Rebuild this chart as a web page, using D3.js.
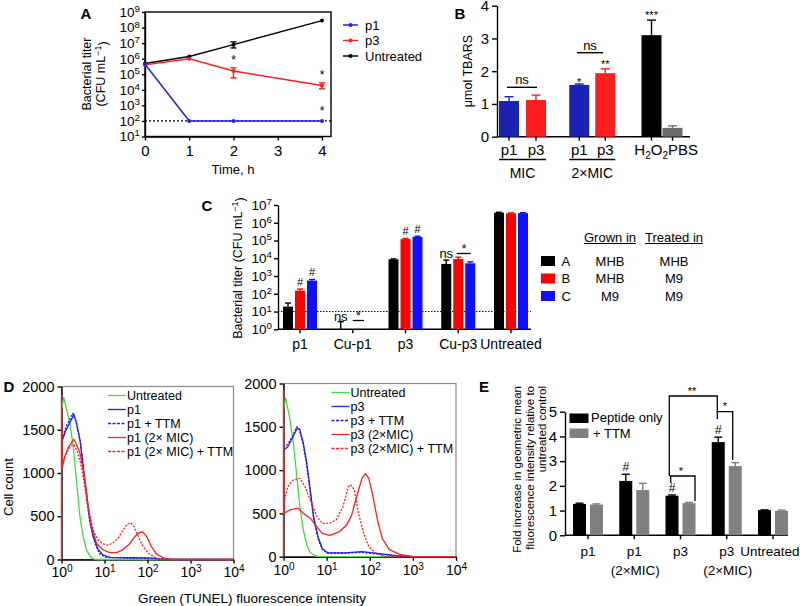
<!DOCTYPE html>
<html>
<head>
<meta charset="utf-8">
<title>Bacterial titer, TBARS and TUNEL panels</title>
<style>
  body { margin: 0; background: #fff; }
  svg { font-family: "Liberation Sans", Arial, Helvetica, sans-serif; }
</style>
</head>
<body>
<svg id="fig" width="800" height="606"></svg>
<script src="https://cdn.jsdelivr.net/npm/d3@7"></script>
<script>
// ---------- data ----------
// A: time kill curve (CFU/mL)
var timeH = [0, 1, 2, 4];
var aP1 = [4.4e5, 100, 100, 100];
var aP3 = [4.0e5, 1.0e6, 1.6e5, 1.9e4];
var aP3Lo = [null, null, 5.8e4, 1.15e4];
var aP3Hi = [null, null, 2.6e5, 2.8e4];
var aUntreated = [4.9e5, 1.4e6, 8.0e6, 2.8e8];
var aUntLo = [null, null, 4.9e6, null];
var aUntHi = [null, null, 1.2e7, null];
var aYTicks = [1e1, 1e2, 1e3, 1e4, 1e5, 1e6, 1e7, 1e8, 1e9];
var aXTicks = [0, 1, 2, 3, 4];

// B: TBARS
var bGroups = ["MIC", "2×MIC", "ctrl"];
var bMicVals = [1.09, 1.12], bMicErr = [1.22, 1.27];
var bMic2Vals = [1.58, 1.94], bMic2Err = [1.61, 2.07];
var bCtrlVals = [3.1, 0.27], bCtrlErr = [3.56, 0.33];
var bYTicks = [0, 1, 2, 3, 4];

// C: titer after growth/treatment media (series A, B, C)
var cGroups = ["p1", "Cu-p1", "p3", "Cu-p3", "Untreated"];
var cA = [19, 1, 8700, 4800, 3.7e6];
var cAHi = [30, 2.7, 9200, 7900, 3.9e6];
var cB = [150, 1, 1.2e5, 9000, 3.4e6];
var cBHi = [185, null, 1.3e5, 1.15e4, 3.6e6];
var cC = [550, 1, 1.6e5, 5200, 3.5e6];
var cCHi = [640, null, 1.75e5, 6300, 3.7e6];
var cYTicks = [1e0, 1e1, 1e2, 1e3, 1e4, 1e5, 1e6, 1e7];
var cLegend = [["A", "MHB", "MHB"], ["B", "MHB", "M9"], ["C", "M9", "M9"]];

// D: TUNEL histograms, [intensity, cell count]
var dLeftUntreated = [[1,1740],[1.13,1870],[1.31,1740],[1.56,1580],[1.87,1310],[2.15,1000],[2.67,505],[3.19,265],[3.81,110],[4.72,30],[5.96,0],[1e4,0]];
var dLeftP1 = [[1,1350],[1.2,1465],[1.43,1545],[1.71,1620],[1.94,1680],[2.23,1580],[2.67,1390],[3.08,1155],[3.49,920],[3.95,690],[4.57,455],[5.45,265],[7.12,115],[9.3,50],[13.3,25],[46,20],[113,18],[194,8],[398,0],[1e4,0]];
var dLeftP1TTM = [[1,1390],[1.31,1545],[1.56,1620],[1.81,1690],[2.15,1600],[2.77,1350],[3.19,1040],[3.81,730],[4.57,420],[5.96,190],[7.6,70],[10.7,25],[40,15],[150,10],[398,0],[1e4,0]];
var dLeftP1Mic = [[1,0],[1,1900],[1.04,1060],[1.2,1195],[1.43,1290],[1.71,1350],[1.94,1390],[2.23,1330],[2.67,1235],[3.19,1040],[3.68,845],[4.18,610],[4.99,380],[6.54,185],[9.3,110],[13.3,80],[19,80],[27,115],[39,185],[51,265],[64,310],[77,320],[96,265],[125,145],[164,60],[234,20],[332,0],[1e4,0]];
var dLeftP1MicTTM = [[1,1100],[1.31,1235],[1.62,1310],[1.94,1330],[2.32,1250],[2.77,1115],[3.19,960],[3.68,765],[4.4,535],[5.45,340],[7.1,225],[9.3,180],[12.2,165],[15.9,195],[20.8,245],[27,340],[33.9,410],[40.5,425],[48.5,380],[61,265],[80,145],[105,70],[150,23],[234,0],[1e4,0]];

var dRightUntreated = [[1,1690],[1.12,1830],[1.38,1615],[1.66,1350],[2.0,965],[2.4,580],[2.88,310],[3.47,135],[4.17,45],[5.5,8],[7.2,0],[1e4,0]];
var dRightP3 = [[1,1230],[1.26,1270],[1.66,1385],[2.09,1485],[2.4,1465],[2.88,1310],[3.47,1080],[4.17,770],[5.0,460],[6.3,230],[7.9,95],[10.5,45],[26,45],[66,58],[151,38],[407,12],[1020,0],[1e4,0]];
var dRightP3TTM = [[1,1260],[1.26,1300],[1.66,1400],[2.0,1500],[2.3,1480],[2.88,1290],[3.47,1050],[4.17,740],[5.0,440],[6.3,210],[7.9,85],[10.5,40],[26,40],[66,50],[151,30],[407,8],[1020,0],[1e4,0]];
var dRightP3Mic = [[1,0],[1,1920],[1.03,500],[1.38,540],[2.19,560],[2.88,500],[4.17,445],[5.5,365],[7.9,270],[11.5,245],[13.8,258],[20,290],[29,365],[38,480],[50,695],[66,905],[79,960],[95,905],[115,730],[151,425],[195,210],[282,85],[490,27],[1020,0],[1e4,0]];
var dRightP3MicTTM = [[1,615],[1.26,810],[1.66,885],[2.4,905],[3.16,810],[4.17,655],[6.0,460],[7.9,385],[11.5,385],[16.6,425],[24,580],[32,810],[36,830],[44,770],[55,500],[72,270],[95,115],[138,40],[234,0],[1e4,0]];
var dYTicks = [0, 500, 1000, 1500, 2000];
var dXTicks = [1, 10, 100, 1000, 10000];
var dLeftLabels = ["Untreated", "p1", "p1 + TTM", "p1 (2× MIC)", "p1 (2× MIC) + TTM"];
var dRightLabels = ["Untreated", "p3", "p3 + TTM", "p3 (2×MIC)", "p3 (2×MIC) + TTM"];

// E: TUNEL geometric mean fold increase
var eCats = ["p1", "p1 (2×MIC)", "p3", "p3 (2×MIC)", "Untreated"];
var ePeptide = [1.27, 2.2, 1.6, 3.77, 1.02];
var ePeptideHi = [1.30, 2.47, 1.63, 3.97, 1.03];
var eTTM = [1.24, 1.83, 1.3, 2.8, 0.99];
var eTTMHi = [1.27, 2.1, 1.33, 2.94, 1.02];
var eYTicks = [0, 1, 2, 3, 4, 5];

// ---------- helpers ----------
var svg = d3.select("#fig");
svg.append("rect").attr("width", 800).attr("height", 606).attr("fill", "#fff");

var BLUE = "#2020e6", RED = "#ff1f1f", GREEN = "#45d945";
var intFmt = d3.format("d");

function styleAxis(g, size) {
    g.selectAll("path, line").attr("stroke", "#000").attr("stroke-width", 1.4);
    g.selectAll("text").attr("font-size", size).attr("fill", "#000")
        .attr("font-family", "\"Liberation Sans\", Arial, sans-serif");
}

function powLabels(g, size) {
    g.selectAll(".tick text").each(function (d) {
        var t = d3.select(this);
        var e = Math.round(Math.log10(d));
        t.text("10");
        t.append("tspan").attr("dy", "-0.5em").attr("font-size", size * 0.72).text(e);
    });
}

function label(g, x, y, s, size, anchor, weight) {
    return g.append("text").attr("x", x).attr("y", y)
        .attr("font-size", size).attr("text-anchor", anchor || "middle")
        .attr("font-weight", weight || "normal").attr("fill", "#000").text(s);
}

function vlabel(g, x, y, s, size, anchor) {
    return g.append("text").attr("transform", "translate(" + x + "," + y + ") rotate(-90)")
        .attr("font-size", size).attr("text-anchor", anchor || "middle").attr("dy", "0.35em").text(s);
}

function errorBar(g, x, y1, y2, color, w) {
    g.append("line").attr("x1", x).attr("x2", x).attr("y1", y1).attr("y2", y2)
        .attr("stroke", color).attr("stroke-width", 1.4);
    g.append("line").attr("x1", x - w / 2).attr("x2", x + w / 2).attr("y1", y2).attr("y2", y2)
        .attr("stroke", color).attr("stroke-width", 1.4);
}

function hline(g, x1, x2, y, color, w, dash) {
    var l = g.append("line").attr("x1", x1).attr("x2", x2).attr("y1", y).attr("y2", y)
        .attr("stroke", color || "#000").attr("stroke-width", w || 1.4);
    if (dash) l.attr("stroke-dasharray", dash);
    return l;
}

// ---------- panel A ----------
var gA = svg.append("g");
var ax = d3.scaleLinear().domain([0, 4]).range([145, 322]);
var ay = d3.scaleLog().domain([10, 1e9]).range([136.5, 12]);

gA.append("g").attr("transform", "translate(145,0)")
    .call(d3.axisLeft(ay).tickValues(aYTicks).tickSize(3).tickSizeOuter(0).tickPadding(2))
    .call(function (g) { styleAxis(g, 13.5); powLabels(g, 13.5); });
gA.append("g").attr("transform", "translate(0,136.5)")
    .call(d3.axisBottom(ax).tickValues(aXTicks).tickSize(4).tickSizeOuter(0).tickPadding(5).tickFormat(intFmt))
    .call(function (g) { styleAxis(g, 15); });
gA.append("rect").attr("x", 145).attr("y", 12).attr("width", 186).attr("height", 124.5)
    .attr("fill", "none").attr("stroke", "#000").attr("stroke-width", 1.4);

hline(gA, 145, 331, ay(100), "#000", 1.3, "2,2");

var lineA = d3.line().x(function (d) { return ax(d[0]); }).y(function (d) { return ay(d[1]); });
[[aUntreated, "#000"], [aP3, RED], [aP1, BLUE]].forEach(function (s) {
    var pts = timeH.map(function (t, i) { return [t, s[0][i]]; });
    gA.append("path").attr("d", lineA(pts)).attr("fill", "none").attr("stroke", s[1]).attr("stroke-width", 1.5);
    gA.selectAll(null).data(pts).enter().append("circle")
        .attr("cx", function (d) { return ax(d[0]); }).attr("cy", function (d) { return ay(d[1]); })
        .attr("r", 2).attr("fill", s[1]);
});
timeH.forEach(function (t, i) {
    if (aP3Hi[i]) { errorBar(gA, ax(t), ay(aP3[i]), ay(aP3Hi[i]), RED, 6); errorBar(gA, ax(t), ay(aP3[i]), ay(aP3Lo[i]), RED, 6); }
    if (aUntHi[i]) { errorBar(gA, ax(t), ay(aUntreated[i]), ay(aUntHi[i]), "#000", 6); errorBar(gA, ax(t), ay(aUntreated[i]), ay(aUntLo[i]), "#000", 6); }
});
label(gA, ax(2), ay(aP3Hi[2]) - 4, "*", 12);
label(gA, ax(4), ay(aP3Hi[3]) - 4, "*", 12);
label(gA, ax(4), ay(100) - 6, "*", 12);

label(gA, 86, 19, "A", 15, "middle", "bold");
vlabel(gA, 87, 74, "Bacterial titer", 12.5);
var ylab = gA.append("text").attr("transform", "translate(101,74) rotate(-90)")
    .attr("font-size", 12.5).attr("text-anchor", "middle").attr("dy", "0.35em");
ylab.append("tspan").text("(CFU mL");
ylab.append("tspan").attr("dy", "-0.45em").attr("font-size", 9).text("−1");
ylab.append("tspan").attr("dy", "0.45em").text(")");
label(gA, 233, 174, "Time, h", 13);

[["p1", BLUE], ["p3", RED], ["Untreated", "#000"]].forEach(function (d, i) {
    var y = 25 + i * 15.5;
    hline(gA, 343, 358, y, d[1], 1.5);
    gA.append("circle").attr("cx", 350.5).attr("cy", y).attr("r", 2).attr("fill", d[1]);
    label(gA, 365, y + 4.5, d[0], 13, "start");
});

// ---------- panel B ----------
var gB = svg.append("g");
var BBLUE = "#1a22b4";
var by = d3.scaleLinear().domain([0, 4]).range([136.7, 5.7]);
var bxg = d3.scalePoint().domain(bGroups).range([522.5, 662]);
gB.append("g").attr("transform", "translate(497,0)")
    .call(d3.axisLeft(by).tickValues(bYTicks).tickSize(5).tickSizeOuter(0).tickPadding(3).tickFormat(intFmt))
    .call(function (g) { styleAxis(g, 15); });
hline(gB, 497, 690, by(0), "#000", 1.4);

var bBars = [
    { g: "MIC", off: -13.5, v: bMicVals[0], e: bMicErr[0], c: BBLUE, t: "p1" },
    { g: "MIC", off: 13.5, v: bMicVals[1], e: bMicErr[1], c: RED, t: "p3" },
    { g: "2×MIC", off: -13, v: bMic2Vals[0], e: bMic2Err[0], c: BBLUE, t: "p1" },
    { g: "2×MIC", off: 13, v: bMic2Vals[1], e: bMic2Err[1], c: RED, t: "p3" },
    { g: "ctrl", off: -10.5, v: bCtrlVals[0], e: bCtrlErr[0], c: "#000", t: "" },
    { g: "ctrl", off: 10.5, v: bCtrlVals[1], e: bCtrlErr[1], c: "#6b6b6b", t: "" }
];
bBars.forEach(function (d) {
    var cx = bxg(d.g) + d.off;
    errorBar(gB, cx, by(d.v), by(d.e), d.c, 9);
    gB.append("rect").attr("x", cx - 10).attr("width", 20).attr("y", by(d.v))
        .attr("height", by(0) - by(d.v)).attr("fill", d.c);
    gB.append("line").attr("x1", cx).attr("x2", cx).attr("y1", by(0)).attr("y2", by(0) + 4)
        .attr("stroke", "#000").attr("stroke-width", 1.4);
    if (d.t) label(gB, cx, 155, d.t, 15);
});
hline(gB, 499, 546, 159.5, "#000", 1.3);
hline(gB, bxg("2×MIC") - 23, bxg("2×MIC") + 23, 159.5, "#000", 1.3);
label(gB, bxg("MIC"), 178, "MIC", 14);
label(gB, bxg("2×MIC"), 178, "2×MIC", 14);
var h2o2 = gB.append("text").attr("x", 668).attr("y", 155).attr("font-size", 15).attr("text-anchor", "end");
h2o2.append("tspan").text("H");
h2o2.append("tspan").attr("dy", 4).attr("font-size", 10).text("2");
h2o2.append("tspan").attr("dy", -4).text("O");
h2o2.append("tspan").attr("dy", 4).attr("font-size", 10).text("2");
label(gB, 668, 155, "PBS", 15, "start");

hline(gB, 507, 537, 87.3, "#000", 1.4);
label(gB, 522, 84, "ns", 13);
hline(gB, 577, 603, 52.7, "#000", 1.4);
label(gB, 590, 50, "ns", 13);
label(gB, bxg("2×MIC") - 13, 86, "*", 11);
label(gB, bxg("2×MIC") + 13, 68, "**", 11);
label(gB, bxg("ctrl") - 10.5, 19, "***", 11);
label(gB, 460, 19, "B", 15, "middle", "bold");
vlabel(gB, 468, 71, "μmol TBARS", 12.5);

// ---------- panel C ----------
var gC = svg.append("g");
var cy = d3.scaleLog().domain([1, 1e7]).range([329.3, 205]);
var cx = d3.scalePoint().domain(cGroups).range([300, 511]);
gC.append("g").attr("transform", "translate(278,0)")
    .call(d3.axisLeft(cy).tickValues(cYTicks).tickSize(4).tickSizeOuter(0).tickPadding(2))
    .call(function (g) { styleAxis(g, 13.5); powLabels(g, 13.5); });
hline(gC, 278, 531, cy(1), "#000", 1.4);
hline(gC, 278, 531, cy(10), "#000", 1, "1.5,1.5");
cGroups.forEach(function (gname) {
    gC.append("line").attr("x1", cx(gname)).attr("x2", cx(gname)).attr("y1", cy(1)).attr("y2", cy(1) + 4)
        .attr("stroke", "#000").attr("stroke-width", 1.4);
    label(gC, cx(gname), 349, gname, 14);
});
[[cA, cAHi, "#000", -12], [cB, cBHi, "#ff0000", 0], [cC, cCHi, "#1010ff", 12]].forEach(function (s) {
    cGroups.forEach(function (gname, i) {
        var x = cx(gname) + s[3];
        if (s[1][i]) errorBar(gC, x, cy(s[0][i]), cy(s[1][i]), s[2], 6);
        if (s[0][i] > 1) {
            gC.append("rect").attr("x", x - 5).attr("width", 10).attr("y", cy(s[0][i]))
                .attr("height", cy(1) - cy(s[0][i])).attr("fill", s[2]);
        }
    });
});
label(gC, cx("p1"), cy(cBHi[0]) - 3, "#", 11);
label(gC, cx("p1") + 12, cy(cCHi[0]) - 3, "#", 11);
label(gC, cx("p3"), cy(cBHi[2]) - 3, "#", 11);
label(gC, cx("p3") + 12, cy(cCHi[2]) - 3, "#", 11);
label(gC, cx("Cu-p1") - 12, 321, "ns", 13);
hline(gC, 352.7, 364, 320.5, "#000", 1.3);
label(gC, 358.3, 320, "*", 12);
label(gC, cx("Cu-p3") - 12, 257.5, "ns", 13);
hline(gC, 456.7, 470.7, 253.5, "#000", 1.3);
label(gC, 464, 253, "*", 12);
label(gC, 207, 211, "C", 15, "middle", "bold");
var ylabC = gC.append("text").attr("transform", "translate(238,268) rotate(-90)")
    .attr("font-size", 12.5).attr("text-anchor", "middle").attr("dy", "0.35em");
ylabC.append("tspan").text("Bacterial  titer (CFU mL");
ylabC.append("tspan").attr("dy", "-0.45em").attr("font-size", 9).text("−1");
ylabC.append("tspan").attr("dy", "0.45em").text(")");

// legend C
[["Grown in", 610], ["Treated in", 674]].forEach(function (d) {
    var t = label(gC, d[1], 241.5, d[0], 13);
    var w = t.node().getComputedTextLength();
    hline(gC, d[1] - w / 2, d[1] + w / 2, 243.5, "#000", 1);
});
var cColors = ["#000", "#ff0000", "#1010ff"];
cLegend.forEach(function (d, i) {
    var y = 261 + i * 17.5;
    gC.append("rect").attr("x", 541).attr("y", y - 5).attr("width", 14).attr("height", 10).attr("fill", cColors[i]);
    label(gC, 561.5, y + 4.5, d[0], 13, "start");
    label(gC, 610, y + 4.5, d[1], 13);
    label(gC, 674, y + 4.5, d[2], 13);
});

// ---------- panel D ----------
function histPanel(g, x0, x1, yBot, yTop, curves, names, legX) {
    var hx = d3.scaleLog().domain([1, 1e4]).range([x0, x1]);
    var hy = d3.scaleLinear().domain([0, 2000]).range([yBot, yTop]);
    g.append("rect").attr("x", x0).attr("y", yTop).attr("width", x1 - x0).attr("height", yBot - yTop)
        .attr("fill", "none").attr("stroke", "#8a8a8a").attr("stroke-width", 1.2);
    g.append("g").attr("transform", "translate(" + x0 + ",0)")
        .call(d3.axisLeft(hy).tickValues(dYTicks).tickSize(4).tickSizeOuter(0).tickPadding(3).tickFormat(intFmt))
        .call(function (a) { styleAxis(a, 14.5); });
    g.append("g").attr("transform", "translate(0," + yBot + ")")
        .call(d3.axisBottom(hx).tickValues(dXTicks).tickSize(4).tickSizeOuter(0).tickPadding(4))
        .call(function (a) { styleAxis(a, 14); powLabels(a, 14); });
    var ln = d3.line().x(function (d) { return hx(d[0]); }).y(function (d) { return hy(d[1]); });
    curves.forEach(function (c) {
        var p = g.append("path").attr("d", ln(c.data)).attr("fill", "none")
            .attr("stroke", c.color).attr("stroke-width", 1.3).attr("stroke-linejoin", "round");
        if (c.dash) p.attr("stroke-dasharray", "2,1.5");
    });
    curves.forEach(function (c, i) {
        var y = yTop + 9 + i * 14;
        var l = hline(g, legX, legX + 18, y, c.color, 1.3);
        if (c.dash) l.attr("stroke-dasharray", "3,1.5");
        label(g, legX + 19, y + 4.5, names[i], 12.5, "start");
    });
}
var gD = svg.append("g");
histPanel(gD, 61.5, 233.5, 559.5, 386.5, [
    { data: dLeftUntreated, color: GREEN },
    { data: dLeftP1, color: BLUE },
    { data: dLeftP1TTM, color: BLUE, dash: true },
    { data: dLeftP1Mic, color: RED },
    { data: dLeftP1MicTTM, color: RED, dash: true }
], dLeftLabels, 108);
histPanel(gD, 283.5, 456, 556.7, 383.5, [
    { data: dRightUntreated, color: GREEN },
    { data: dRightP3, color: BLUE },
    { data: dRightP3TTM, color: BLUE, dash: true },
    { data: dRightP3Mic, color: RED },
    { data: dRightP3MicTTM, color: RED, dash: true }
], dRightLabels, 331.5);
label(gD, 9, 392, "D", 15, "middle", "bold");
vlabel(gD, 8, 487, "Cell count", 13);
label(gD, 252, 603, "Green (TUNEL) fluorescence intensity", 13.5);

// ---------- panel E ----------
var gE = svg.append("g");
var ey = d3.scaleLinear().domain([0, 5]).range([535.3, 411.7]);
var ex = d3.scalePoint().domain(eCats).range([588, 773]);
gE.append("g").attr("transform", "translate(565,0)")
    .call(d3.axisLeft(ey).tickValues(eYTicks).tickSize(5).tickSizeOuter(0).tickPadding(3).tickFormat(intFmt))
    .call(function (g) { styleAxis(g, 15); });
hline(gE, 565, 788, ey(0), "#000", 1.4);
eCats.forEach(function (c, i) {
    var x = ex(c);
    gE.append("line").attr("x1", x).attr("x2", x).attr("y1", ey(0)).attr("y2", ey(0) + 4)
        .attr("stroke", "#000").attr("stroke-width", 1.4);
    var parts = c.split(" ");
    label(gE, parts.length > 1 ? x : Math.min(x, 770), 556, parts[0], 13.5);
    if (parts[1]) label(gE, x + 1, 574.5, parts[1], 13.5);
    errorBar(gE, x - 8.5, ey(ePeptide[i]), ey(ePeptideHi[i]), "#000", 8);
    gE.append("rect").attr("x", x - 15).attr("width", 13).attr("y", ey(ePeptide[i]))
        .attr("height", ey(0) - ey(ePeptide[i])).attr("fill", "#000");
    errorBar(gE, x + 8.5, ey(eTTM[i]), ey(eTTMHi[i]), "#808080", 8);
    gE.append("rect").attr("x", x + 2).attr("width", 13).attr("y", ey(eTTM[i]))
        .attr("height", ey(0) - ey(eTTM[i])).attr("fill", "#808080");
});
label(gE, ex(eCats[1]) - 8.5, ey(ePeptideHi[1]) - 3, "#", 12);
label(gE, ex(eCats[2]) - 8.5, ey(ePeptideHi[2]) - 3, "#", 12);
label(gE, ex(eCats[3]) - 8.5, ey(ePeptideHi[3]) - 3, "#", 12);

function bracket(g, xa, ya, xb, yb, yTopB) {
    g.append("path").attr("d", "M" + xa + "," + ya + "V" + yTopB + "H" + xb + "V" + yb)
        .attr("fill", "none").attr("stroke", "#000").attr("stroke-width", 1.3);
}
bracket(gE, 670.7, 483, 695, 501, 476);
label(gE, 681, 475, "*", 11);
bracket(gE, 717.3, 419, 732.7, 460, 411.7);
label(gE, 725, 410, "*", 11);
bracket(gE, 669.3, 476, 717.3, 411.7, 396);
label(gE, 692, 395, "**", 11);

gE.append("rect").attr("x", 569.5).attr("y", 413.5).attr("width", 19).attr("height", 9.5).attr("fill", "#000");
label(gE, 591, 422, "Peptide only", 13, "start");
gE.append("rect").attr("x", 569.5).attr("y", 428.5).attr("width", 19).attr("height", 9.5).attr("fill", "#808080");
label(gE, 593, 437.5, "+ TTM", 13, "start");

label(gE, 484, 392, "E", 15, "middle", "bold");
vlabel(gE, 517, 386, "Fold increase in geometric mean", 11.5, "end");
vlabel(gE, 529.5, 386, "fluorescence intensity relative to", 11.5, "end");
vlabel(gE, 542, 386, "untreated control", 11.5, "end");
</script>
</body>
</html>
